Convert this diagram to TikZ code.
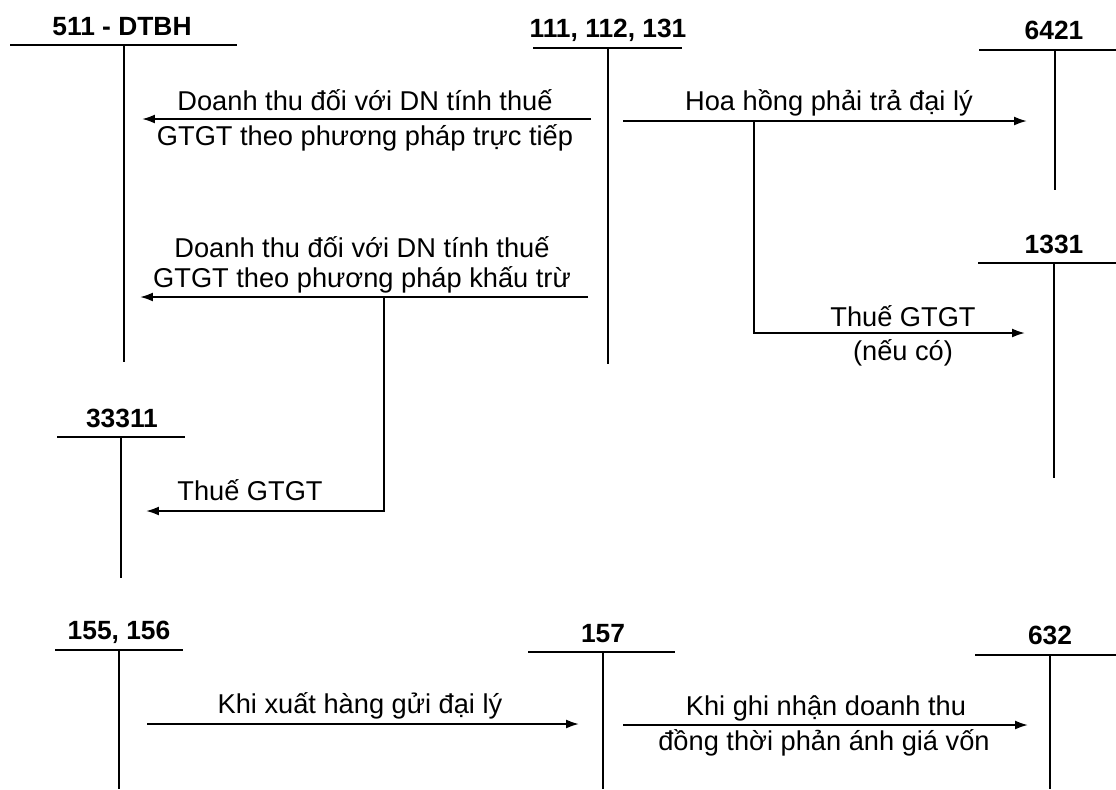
\documentclass[tikz,border=0pt]{standalone}
\usepackage{fontspec}
\setmainfont{Liberation Sans}
\usetikzlibrary{arrows.meta,positioning}

\begin{document}
\begin{tikzpicture}[
    x=0.02cm, y=-0.02cm,
    acct/.style={anchor=base, inner sep=0pt, font=\fontsize{15}{18}\selectfont\bfseries},
    note/.style={anchor=base, inner sep=0pt, font=\fontsize{15.5}{18}\selectfont},
    tline/.style={black, line width=1.1pt},
    branch/.style={black, line width=1.1pt},
    flow/.style={black, line width=1.1pt, -{Latex[length=2.6mm,width=1.8mm]}}
]
\useasboundingbox (0,0) rectangle (1116,789);
% T-accounts
\node[acct] (t511) at (122,35) {511 - DTBH};
\coordinate (l511) at (10,45);  \coordinate (r511) at (237,45);
\coordinate (m511) at (124,45); \coordinate (b511) at (124,362);
\node[acct] (t111) at (608,37) {111, 112, 131};
\coordinate (l111) at (533,48); \coordinate (r111) at (682,48);
\coordinate (m111) at (608,48); \coordinate (b111) at (608,364);
\node[acct] (t6421) at (1054,39) {6421};
\coordinate (l6421) at (979,50);  \coordinate (r6421) at (1116,50);
\coordinate (m6421) at (1055,50); \coordinate (b6421) at (1055,190);
\node[acct] (t1331) at (1054,253) {1331};
\coordinate (l1331) at (978,263);  \coordinate (r1331) at (1116,263);
\coordinate (m1331) at (1054,263); \coordinate (b1331) at (1054,478);
\node[acct] (t33311) at (122,427) {33311};
\coordinate (l33311) at (57,437);  \coordinate (r33311) at (185,437);
\coordinate (m33311) at (121,437); \coordinate (b33311) at (121,578);
\node[acct] (t155) at (119,639) {155, 156};
\coordinate (l155) at (55,650);  \coordinate (r155) at (183,650);
\coordinate (m155) at (119,650); \coordinate (b155) at (119,789);
\node[acct] (t157) at (603,642) {157};
\coordinate (l157) at (528,652); \coordinate (r157) at (675,652);
\coordinate (m157) at (603,652); \coordinate (b157) at (603,789);
\node[acct] (t632) at (1050,644) {632};
\coordinate (l632) at (975,655);  \coordinate (r632) at (1116,655);
\coordinate (m632) at (1050,655); \coordinate (b632) at (1050,789);
\foreach \a in {511,111,6421,1331,33311,155,157,632} {
  \draw[tline] (l\a) -- (r\a);
  \draw[tline] (m\a) -- (b\a);
}
% connector ends
\coordinate (s1) at (591,119);  \coordinate (e1) at (142,119);
\coordinate (s2) at (623,121);  \coordinate (e2) at (1027,121);
\coordinate (k2) at (754,121);  \coordinate (c2) at (754,333);
\coordinate (e2b) at (1025,333);
\coordinate (s3) at (588,297);  \coordinate (e3) at (140,297);
\coordinate (k3) at (384,297);  \coordinate (c3) at (384,511);
\coordinate (e3b) at (146,511);
\coordinate (s4) at (147,724);  \coordinate (e4) at (579,724);
\coordinate (s5) at (623,725);  \coordinate (e5) at (1028,725);
% labels
\node[note] (n1a) at (365,110) {Doanh thu đối với DN tính thuế};
\node[note] (n1b) at (365,145) {GTGT theo phương pháp trực tiếp};
\node[note] (n2) at (829,110) {Hoa hồng phải trả đại lý};
\node[note] (n2a) at (903,326) {Thuế GTGT};
\node[note] (n2b) at (903,360) {(nếu có)};
\node[note] (n3a) at (362,257) {Doanh thu đối với DN tính thuế};
\node[note] (n3b) at (362,287) {GTGT theo phương pháp khấu trừ};
\node[note] (n3c) at (250,500) {Thuế GTGT};
\node[note] (n4) at (360,713) {Khi xuất hàng gửi đại lý};
\node[note] (n5a) at (826,715) {Khi ghi nhận doanh thu};
\node[note] (n5b) at (824,750) {đồng thời phản ánh giá vốn};
% flows
\draw[flow] (s1) -- (e1);
\draw[flow] (s2) -- (e2);
\draw[flow] (k2) -- (c2) -- (e2b);
\draw[flow] (s3) -- (e3);
\draw[flow] (k3) -- (c3) -- (e3b);
\draw[flow] (s4) -- (e4);
\draw[flow] (s5) -- (e5);
\end{tikzpicture}
\end{document}
